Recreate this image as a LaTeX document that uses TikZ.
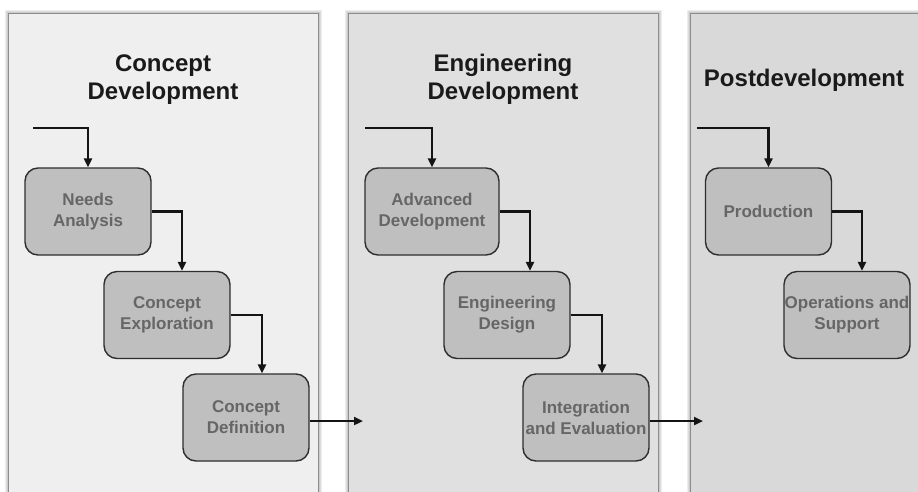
\documentclass[tikz,border=0pt]{standalone}
\usepackage{fontspec}
\setmainfont{Liberation Sans}
\usetikzlibrary{arrows.meta,calc}
\definecolor{panelA}{HTML}{EFEFEF}
\definecolor{panelB}{HTML}{E0E0E0}
\definecolor{panelC}{HTML}{D9D9D9}
\definecolor{boxfill}{HTML}{BFBFC0}
\definecolor{boxline}{HTML}{2E2E2E}
\definecolor{boxtext}{HTML}{666666}
\definecolor{titletext}{HTML}{1A1A1A}
\tikzset{
  panel/.style={draw=black!45, line width=0.8pt},
  panelshadow/.style={draw=black, line width=#1, opacity=0.07},
  phase/.style={rounded corners=13pt, draw=boxline, line width=1.4pt, fill=boxfill,
    minimum width=126pt, minimum height=87pt, inner sep=0pt, align=center,
    text=boxtext, font=\fontsize{17}{21}\selectfont\bfseries},
  ptitle/.style={align=center, inner sep=0pt, anchor=base, text=titletext,
    font=\fontsize{24}{28}\selectfont\bfseries},
  flow/.style={line width=2.2pt, draw=black!92, -{Triangle[length=9pt,width=8pt]}},
}
\begin{document}
\begin{tikzpicture}[x=1pt,y=-1pt]
\useasboundingbox (0,0) rectangle (918,491);
\fill[white] (0,0) rectangle (918,491);
\begin{scope}
\clip (0,0) rectangle (918,491);
% panel shadows
\foreach \w in {7pt,5pt,3pt}{
  \draw[panelshadow=\w] (8,13) rectangle (318,500);
  \draw[panelshadow=\w] (348,13) rectangle (658,500);
  \draw[panelshadow=\w] (690,13) rectangle (930,500);
}
\filldraw[panel, fill=panelA] (8,13) rectangle (318,500);
\filldraw[panel, fill=panelB] (348,13) rectangle (658,500);
\filldraw[panel, fill=panelC] (690,13) rectangle (930,500);
\end{scope}

% titles (base anchor = baseline of the last line)
\node[ptitle] (t1) at (163,99) {Concept\\Development};
\node[ptitle] (t2) at (503,99) {Engineering\\Development};
\node[ptitle] (t3) at (804,86) {Postdevelopment};

% boxes
\node[phase] (na) at (88,211.5) {Needs\\Analysis};
\node[phase] (ce) at (167,315) {Concept\\Exploration};
\node[phase] (cd) at (246,417.5) {Concept\\Definition};
\node[phase, minimum width=134pt] (ad) at (432,211.5) {Advanced\\Development};
\node[phase] (ed) at (507,315) {Engineering\\Design};
\node[phase] (ie) at (586,417.5) {Integration\\and Evaluation};
\node[phase] (pr) at (768.5,211.5) {Production};
\node[phase] (os) at (847,315) {Operations and\\Support};

% entry points
\coordinate (s1) at (33,128);
\coordinate (s2) at (365,128);
\coordinate (s3) at (697,128);
\coordinate (e2) at (363,421);
\coordinate (e3) at (703,421);

\draw[flow] (s1) -| (na.north);
\draw[flow] (na.east) -| ([xshift=15pt]ce.north);
\draw[flow] (ce.east) -| ([xshift=16pt]cd.north);
\draw[flow] (cd.east |- e2) -- (e2);

\draw[flow] (s2) -| (ad.north);
\draw[flow] (ad.east) -| ([xshift=23pt]ed.north);
\draw[flow] (ed.east) -| ([xshift=16pt]ie.north);
\draw[flow] (ie.east |- e3) -- (e3);

\draw[flow] (s3) -| (pr.north);
\draw[flow] (pr.east) -| ([xshift=15pt]os.north);
\end{tikzpicture}
\end{document}
